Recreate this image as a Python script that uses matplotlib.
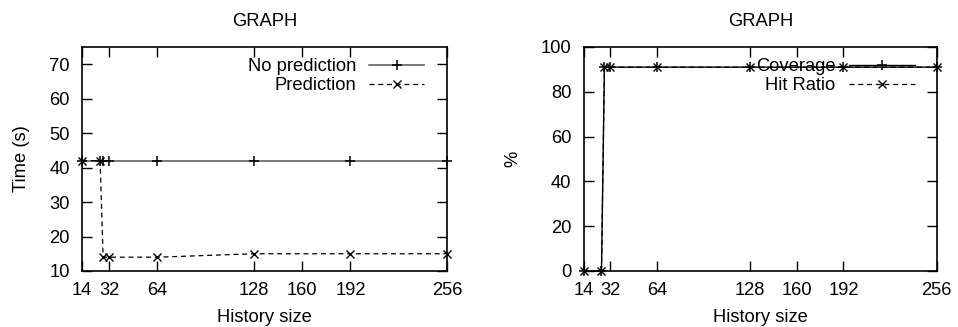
import matplotlib
matplotlib.use("Agg")
import matplotlib.pyplot as plt

plt.rcParams['font.family'] = ['Liberation Sans', 'DejaVu Sans']

# History sizes and measured values
history = [14, 26, 28, 32, 64, 128, 192, 256]
no_prediction = [42, 42, 42, 42, 42, 42, 42, 42]
prediction = [42, 42, 14, 14, 14, 15, 15, 15]
coverage = [0, 0, 91, 91, 91, 91, 91, 91]
hit_ratio = [0, 0, 91, 91, 91, 91, 91, 91]
xticks = [14, 32, 64, 128, 160, 192, 256]

FS = 13.2

fig = plt.figure(figsize=(9.58, 3.27), dpi=100)
ax1 = fig.add_axes([0.0856, 0.1713, 0.381, 0.685])
ax2 = fig.add_axes([0.6096, 0.1713, 0.3682, 0.685])


def style(ax, ylim, yticks, ylabel, ylabelpad):
    ax.set_xlim(14, 256)
    ax.set_ylim(*ylim)
    ax.set_xticks(xticks)
    ax.set_yticks(yticks)
    ax.tick_params(direction='in', length=7, width=1, top=True, right=True,
                   labelsize=FS)
    ax.tick_params(axis='x', pad=8)
    ax.tick_params(axis='y', pad=9)
    for s in ax.spines.values():
        s.set_linewidth(1.2)
    ax.set_title('GRAPH', fontsize=FS, pad=15)
    ax.set_xlabel('History size', fontsize=FS, labelpad=7)
    ax.set_ylabel(ylabel, fontsize=FS, labelpad=ylabelpad)


ax1.plot(history, no_prediction, color='#555555', lw=1.1, marker='+', ms=6.5,
         mew=1.1, mec='black', label='No prediction', clip_on=False)
ax1.plot(history, prediction, color='black', lw=0.9, ls=(0, (4, 3)), marker='x',
         ms=6, mew=1.0, label='Prediction', clip_on=False)
style(ax1, (10, 75), range(10, 71, 10), 'Time (s)', 14)

ax2.plot(history, coverage, color='black', lw=1.0, marker='+', ms=6.5,
         mew=1.1, label='Coverage', clip_on=False)
ax2.plot(history, hit_ratio, color='black', lw=0.9, ls=(0, (4, 3)), marker='x',
         ms=6, mew=1.0, label='Hit Ratio', clip_on=False)
style(ax2, (0, 100), range(0, 101, 20), '%', 14)

for ax, hl in ((ax1, 3.0), (ax2, 3.6)):
    ax.legend(loc='upper right', bbox_to_anchor=(0.937, 0.95), frameon=False,
              markerfirst=False, numpoints=1, handlelength=hl,
              handletextpad=0.7, labelspacing=0.1, borderpad=0,
              borderaxespad=0, fontsize=FS)

fig.savefig('out.png', dpi=100)
